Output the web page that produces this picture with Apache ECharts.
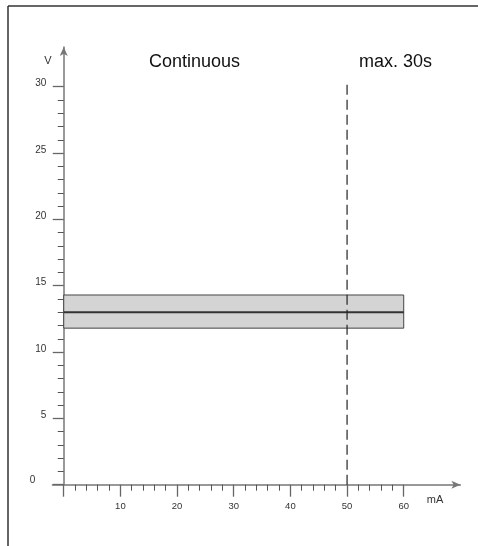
<!DOCTYPE html>
<html><head><meta charset="utf-8">
<script src="https://cdn.jsdelivr.net/npm/echarts@6/dist/echarts.min.js"></script>
<style>html,body{margin:0;padding:0;background:#fff}#c{width:478px;height:546px}</style>
</head><body><div id="c"></div>
<script>
// ---- data ----
const xMajorTicks = [0, 10, 20, 30, 40, 50, 60];
const xLabels = [10, 20, 30, 40, 50, 60];
const xMinorTicks = [2,4,6,8,12,14,16,18,22,24,26,28,32,34,36,38,42,44,46,48,52,54,56,58];
const yMajorTicks = [0, 5, 10, 15, 20, 25, 30];
const yMinorTicks = [1,2,3,4,6,7,8,9,11,12,13,14,16,17,18,19,21,22,23,24,26,27,28,29];
const bandStart = [0, 11.8];
const bandEnd = [60, 14.3];
const nominalLine = [[0, 13], [60, 13]];
const limitLine = [[50, 0], [50, 30.3]];
const xRange = [-2, 70];
const yRange = [0, 33];

const FONT = 'Liberation Sans, Arial, sans-serif';
const chart = echarts.init(document.getElementById('c'), null, {renderer: 'canvas'});

const option = {
  animation: false,
  backgroundColor: '#fff',
  grid: {left: 52.4, right: 17.6, top: 46.9, bottom: 61.3, outerBoundsMode: 'none', containLabel: false},
  xAxis: [
    {
      type: 'value', min: xRange[0], max: xRange[1], position: 'bottom',
      axisLine: {show: true, onZero: true, symbol: ['none', 'arrow'], symbolSize: [6, 9], lineStyle: {color: '#777', width: 1.5}},
      axisTick: {show: true, customValues: xMajorTicks, length: 12, lineStyle: {color: '#666', width: 1.3}},
      axisLabel: {show: true, customValues: xLabels, margin: 17, fontSize: 9.5, color: '#333', fontFamily: FONT},
      splitLine: {show: false}
    },
    {
      type: 'value', min: xRange[0], max: xRange[1], position: 'bottom',
      axisLine: {show: true, onZero: true, lineStyle: {opacity: 0}},
      axisTick: {show: true, customValues: xMinorTicks, length: 6, lineStyle: {color: '#555', width: 1}},
      axisLabel: {show: false},
      splitLine: {show: false}
    }
  ],
  yAxis: [
    {
      type: 'value', min: yRange[0], max: yRange[1], position: 'left',
      axisLine: {show: true, onZero: true, symbol: ['none', 'arrow'], symbolSize: [6, 9], lineStyle: {color: '#777', width: 1.5}},
      axisTick: {show: true, customValues: yMajorTicks, length: 11, lineStyle: {color: '#666', width: 1.3}},
      axisLabel: {
        show: true, customValues: yMajorTicks, margin: 6, fontSize: 10, color: '#333', fontFamily: FONT,
        padding: [0, 0, 6, 0],
        formatter: v => v === 0 ? '{z|0}' : String(v),
        rich: {z: {fontSize: 10, color: '#333', fontFamily: FONT, padding: [0, 11, 2, 0]}}
      },
      splitLine: {show: false}
    },
    {
      type: 'value', min: yRange[0], max: yRange[1], position: 'left',
      axisLine: {show: true, onZero: true, lineStyle: {opacity: 0}},
      axisTick: {show: true, customValues: yMinorTicks, length: 6, lineStyle: {color: '#555', width: 1}},
      axisLabel: {show: false},
      splitLine: {show: false}
    }
  ],
  series: [
    {
      type: 'line', data: nominalLine, showSymbol: false, silent: true, z: 5,
      lineStyle: {color: '#333', width: 2},
      markArea: {
        silent: true,
        itemStyle: {color: '#d4d4d4', borderColor: '#444', borderWidth: 1},
        data: [[{coord: bandStart}, {coord: bandEnd}]]
      }
    },
    {
      type: 'line', data: limitLine, showSymbol: false, silent: true, z: 6,
      lineStyle: {color: '#222', width: 1.2, type: [10, 5]}
    }
  ],
  graphic: [
    {type: 'line', shape: {x1: 8, y1: 6, x2: 478, y2: 6}, style: {stroke: '#333', lineWidth: 1.5}, silent: true},
    {type: 'line', shape: {x1: 8, y1: 6, x2: 8, y2: 546}, style: {stroke: '#333', lineWidth: 1.5}, silent: true},
    {type: 'text', x: 194.5, y: 62, style: {text: 'Continuous', fontSize: 18, fontFamily: FONT, fill: '#111', align: 'center', verticalAlign: 'middle'}},
    {type: 'text', x: 395.5, y: 62, style: {text: 'max. 30s', fontSize: 18, fontFamily: FONT, fill: '#111', align: 'center', verticalAlign: 'middle'}},
    {type: 'text', x: 48, y: 61, style: {text: 'V', fontSize: 11, fontFamily: FONT, fill: '#333', align: 'center', verticalAlign: 'middle'}},
    {type: 'text', x: 435, y: 500, style: {text: 'mA', fontSize: 11, fontFamily: FONT, fill: '#333', align: 'center', verticalAlign: 'middle'}}
  ]
};
chart.setOption(option);
</script>
</body></html>
